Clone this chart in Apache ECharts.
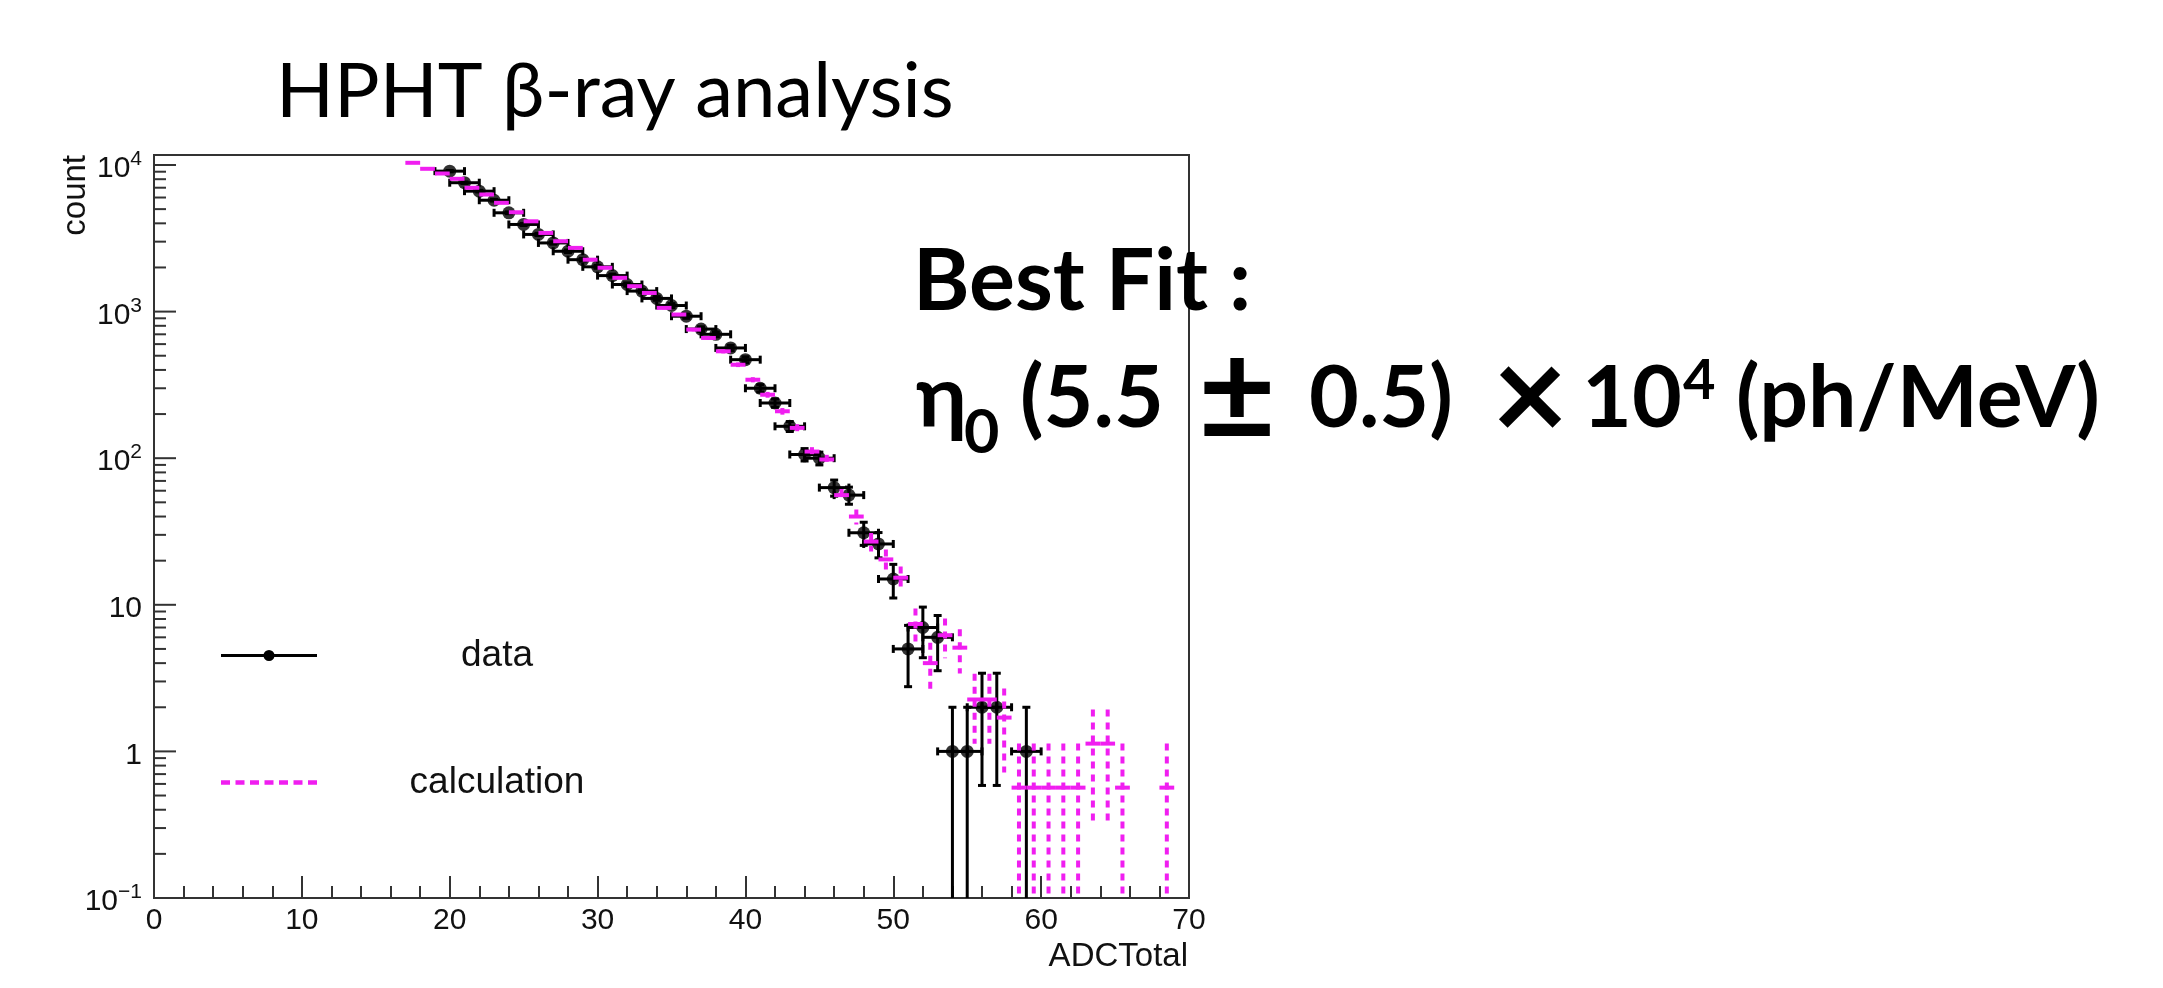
<!DOCTYPE html>
<html>
<head>
<meta charset="utf-8">
<script src="https://cdn.jsdelivr.net/npm/echarts@6/dist/echarts.min.js"></script>
<style>
html, body { margin: 0; padding: 0; background: #fff; }
#main { width: 2163px; height: 988px; }
</style>
</head>
<body>
<div id="main"></div>
<script>
// measured histogram (bin centre in ADCTotal, counts)
var dataX = [20, 21, 22, 23, 24, 25, 26, 27, 28, 29, 30, 31, 32, 33, 34, 35, 36, 37, 38, 39,
             40, 41, 42, 43, 44, 45, 46, 47, 48, 49, 50, 51, 52, 53, 54, 55, 56, 57, 59];
var dataY = [9080, 7570, 6630, 5750, 4720, 3930, 3360, 2940, 2580, 2260, 2020, 1760, 1530, 1380, 1230, 1100, 930, 760, 700, 565,
             470, 300, 238, 165, 106, 100, 63, 56, 31, 26, 15, 5, 7, 6, 1, 1, 2, 2, 1];

// calculated histogram (scaled simulation)
var calcX = [17.5, 18.5, 19.5, 20.5, 21.5, 22.5, 23.5, 24.5, 25.5, 26.5, 27.5, 28.5, 29.5, 30.5, 31.5, 32.5,
             33.5, 34.5, 35.5, 36.5, 37.5, 38.5, 39.5, 40.5, 41.5, 42.5, 43.5, 44.5, 45.5, 46.5, 47.5, 48.5,
             49.5, 50.5, 51.5, 52.5, 53.5, 54.5, 55.5, 56.5, 57.5, 58.5, 59.5, 60.5, 61.5, 62.5, 63.5, 64.5, 65.5, 68.5];
var calcY = [10350, 9420, 8750, 8050, 6990, 6290, 5520, 4760, 4130, 3440, 3020, 2720, 2260, 1990, 1700, 1490,
             1340, 1060, 955, 754, 661, 536, 434, 343, 271, 209, 161, 111, 98, 56, 40, 27,
             20.4, 15.3, 7.4, 4.0, 6.2, 5.1, 2.26, 2.26, 1.7, 0.566, 0.566, 0.566, 0.566, 0.566, 1.13, 1.13, 0.566, 0.566];
var calcWeight = 0.566; // weight of one simulated entry

// axis ticks
var yDecades = [-1, 0, 1, 2, 3, 4];
var yDecadeLabels = ['{b|10}{s|\u22121}', '{b|1}', '{b|10}', '{b|10}{s|2}', '{b|10}{s|3}', '{b|10}{s|4}'];
var yMinorSteps = [2, 3, 4, 5, 6, 7, 8, 9];
var yMin = 0.1, yMax = 11700;

var MAGENTA = '#f01ef0';
var AXIS = '#333';
var ROOT_FONT = '"Liberation Sans", Arial, sans-serif';

var dataSeries = dataX.map(function(x, i) { return [x, dataY[i], Math.sqrt(dataY[i])]; });
var calcSeries = calcX.map(function(x, i) { return [x, calcY[i], Math.sqrt(calcY[i] * calcWeight)]; });

var tickData = [];
yDecades.forEach(function(k) {
    var base = Math.pow(10, k);
    tickData.push([0, base, 22]);
    yMinorSteps.forEach(function(m) {
        var v = m * base;
        if (v < yMax) tickData.push([0, v, 12]);
    });
});

function bottomOf(params) {
    return params.coordSys.y + params.coordSys.height;
}

function renderData(params, api) {
    var x = api.value(0), y = api.value(1), e = api.value(2);
    var c = api.coord([x, y]);
    var l = api.coord([x - 1, y]);
    var r = api.coord([x + 1, y]);
    var t = api.coord([x, y + e]);
    var lo = y - e;
    var bY = lo > yMin ? api.coord([x, lo])[1] : bottomOf(params);
    var st = { stroke: '#000', lineWidth: 3 };
    var kids = [
        { type: 'line', shape: { x1: l[0], y1: c[1], x2: r[0], y2: c[1] }, style: st },
        { type: 'line', shape: { x1: c[0], y1: t[1], x2: c[0], y2: bY }, style: st },
        { type: 'line', shape: { x1: l[0], y1: c[1] - 4, x2: l[0], y2: c[1] + 4 }, style: st },
        { type: 'line', shape: { x1: r[0], y1: c[1] - 4, x2: r[0], y2: c[1] + 4 }, style: st },
        { type: 'line', shape: { x1: c[0] - 4, y1: t[1], x2: c[0] + 4, y2: t[1] }, style: st }
    ];
    if (lo > yMin) {
        kids.push({ type: 'line', shape: { x1: c[0] - 4, y1: bY, x2: c[0] + 4, y2: bY }, style: st });
    }
    return { type: 'group', children: kids };
}

function renderCalc(params, api) {
    var x = api.value(0), y = api.value(1), e = api.value(2);
    var c = api.coord([x, y]);
    var l = api.coord([x - 0.5, y]);
    var r = api.coord([x + 0.5, y]);
    var t = api.coord([x, y + e]);
    var lo = y - e;
    var bY = lo > yMin ? api.coord([x, lo])[1] : bottomOf(params);
    return {
        type: 'group',
        children: [
            { type: 'line', shape: { x1: c[0], y1: t[1], x2: c[0], y2: bY },
              style: { stroke: MAGENTA, lineWidth: 4, lineDash: [7, 6] } },
            { type: 'line', shape: { x1: l[0], y1: c[1], x2: r[0], y2: c[1] },
              style: { stroke: MAGENTA, lineWidth: 4 } }
        ]
    };
}

function renderTick(params, api) {
    var p = api.coord([0, api.value(1)]);
    var x0 = params.coordSys.x;
    return { type: 'line', shape: { x1: x0, y1: p[1], x2: x0 + api.value(2), y2: p[1] },
             style: { stroke: AXIS, lineWidth: 2 } };
}

var dataIcon = 'path://M0,4.5h96v3H0z M53.5,6a5.5,5.5 0 1,1 -11,0a5.5,5.5 0 1,1 11,0z';
var calcIcon = 'path://M0,0h9v4.5H0z M14.5,0h9v4.5h-9z M29,0h9v4.5h-9z M43.5,0h9v4.5h-9z M58,0h9v4.5h-9z M72.5,0h9v4.5h-9z M87,0h9v4.5h-9z';

function txt(x, y, s, size, weight, family, extra) {
    var o = { type: 'text', x: x, y: y, silent: true,
              style: { text: s, fontSize: size, fontWeight: weight, fontFamily: family,
                       fill: '#000', align: 'left', verticalAlign: 'top' } };
    if (extra) {
        for (var k in extra) {
            if (k === 'rotation') o.rotation = extra[k];
            else o.style[k] = extra[k];
        }
    }
    return o;
}

var centred = { align: 'center', verticalAlign: 'middle' };

var option = {
    backgroundColor: '#fff',
    animation: false,
    grid: { left: 154, right: 974, top: 155, bottom: 90, show: true, borderColor: AXIS, borderWidth: 2, backgroundColor: 'transparent' },
    xAxis: {
        type: 'value', min: 0, max: 70, interval: 10,
        axisLine: { show: true, onZero: false, lineStyle: { color: AXIS, width: 2 } },
        axisTick: { show: true, inside: true, length: 22, lineStyle: { color: AXIS, width: 2 } },
        minorTick: { show: true, splitNumber: 5, length: 12, lineStyle: { color: AXIS, width: 2 } },
        splitLine: { show: false },
        axisLabel: { fontSize: 30, fontFamily: ROOT_FONT, color: '#111', margin: 8, showMinLabel: true, showMaxLabel: true }
    },
    yAxis: {
        type: 'log', logBase: 10, min: yMin, max: yMax,
        axisLine: { show: true, lineStyle: { color: AXIS, width: 2 } },
        axisTick: { show: false },
        splitLine: { show: false },
        axisLabel: {
            margin: 12, showMaxLabel: false, padding: [8, 0, 0, 0],
            formatter: function(v) {
                var k = Math.round(Math.log(v) / Math.LN10);
                var i = yDecades.indexOf(k);
                return i >= 0 ? yDecadeLabels[i] : '';
            },
            rich: {
                b: { fontSize: 30, lineHeight: 40, fontFamily: ROOT_FONT, color: '#111' },
                s: { fontSize: 21, lineHeight: 21, verticalAlign: 'top', fontFamily: ROOT_FONT, color: '#111' }
            }
        }
    },
    legend: {
        orient: 'vertical', left: 216, top: 632, itemGap: 90,
        itemWidth: 96, itemHeight: 12, symbolKeepAspect: true,
        selectedMode: false,
        data: [{ name: 'data', icon: dataIcon }, { name: 'calculation', icon: calcIcon }],
        formatter: '{t|{name}}',
        textStyle: {
            rich: { t: { width: 350, align: 'center', fontSize: 37, lineHeight: 40, fontFamily: ROOT_FONT, color: '#111' } }
        }
    },
    graphic: [
        txt(276, 54, 'HPHT \u03b2-ray analysis', 76, 'normal', 'Lato'),
        txt(913, 239, 'Best Fit :', 86, 'bold', 'Lato'),
        txt(916, 356, '\u03b7', 86, 'bold', 'Lato'),
        txt(964, 403, '0', 61, 'bold', 'Lato'),
        txt(1020, 356, '(5.5', 86, 'bold', 'Lato'),
        txt(1237, 398, '\u00b1', 134, 'bold', 'Lato', centred),
        txt(1309, 356, '0.5)', 86, 'bold', 'Lato'),
        txt(1530, 398, '\u00d7', 132, 'bold', 'Lato', centred),
        txt(1582, 356, '10', 86, 'bold', 'Lato'),
        txt(1683, 353, '4', 56, 'bold', 'Lato'),
        txt(1736, 356, '(ph/MeV)', 86, 'bold', 'Lato'),
        txt(76, 155, 'count', 33, 'normal', ROOT_FONT, { align: 'right', verticalAlign: 'middle', fill: '#111', rotation: Math.PI / 2 }),
        txt(1188, 957, 'ADCTotal', 33, 'normal', ROOT_FONT, { align: 'right', verticalAlign: 'middle', fill: '#111' })
    ],
    series: [
        { name: 'yticks', type: 'custom', renderItem: renderTick, data: tickData, silent: true, z: 1 },
        { name: 'data', type: 'custom', renderItem: renderData, data: dataSeries, itemStyle: { color: '#000' }, z: 2 },
        { name: 'data', type: 'scatter', data: dataSeries, symbol: 'circle', symbolSize: 13, itemStyle: { color: '#000' }, z: 3 },
        { name: 'calculation', type: 'custom', renderItem: renderCalc, data: calcSeries, itemStyle: { color: MAGENTA }, z: 4 }
    ]
};

var chart = echarts.init(document.getElementById('main'));
chart.setOption(option);
</script>
</body>
</html>
